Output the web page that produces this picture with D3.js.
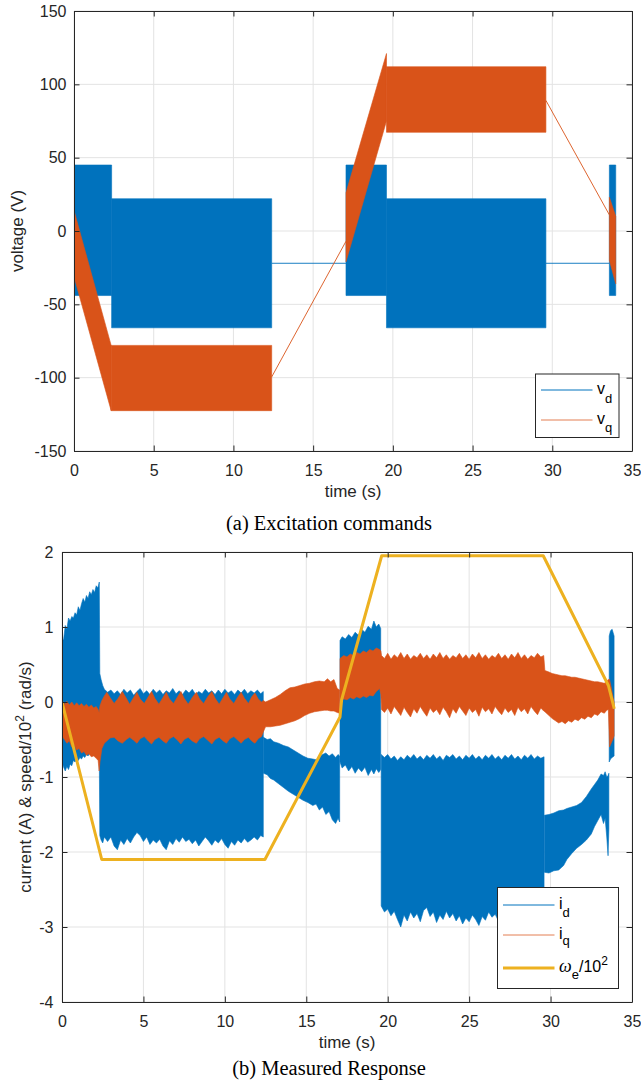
<!DOCTYPE html>
<html>
<head>
<meta charset="utf-8">
<script src="https://cdn.jsdelivr.net/npm/d3@7"></script>
<style>
  html, body { margin: 0; padding: 0; background: #fff; }
  svg { display: block; }
</style>
</head>
<body>
<svg id="fig" width="641" height="1082"></svg>
<script>
// ---------- shared ticks and colours ----------
const timeTicks = [0, 5, 10, 15, 20, 25, 30, 35];
const voltTicks = [-150, -100, -50, 0, 50, 100, 150];
const respTicks = [-4, -3, -2, -1, 0, 1, 2];
const palette = ["#0072BD", "#D95319", "#EDB120"];

// ---------- (a) excitation commands: envelope bands [t, low, high] ----------
const vdBands = [
  [[0, -44, 45], [2.36, -44, 45]],
  [[2.36, -66, 22], [12.4, -66, 22]],
  [[17.06, -44, 45], [19.6, -44, 45]],
  [[19.6, -66, 22], [29.6, -66, 22]],
  [[33.58, -44, 45], [33.98, -44, 45]]
];
// idle intervals where v_d is a constant level [t, value]
const vdIdle = [
  [[12.4, -22], [17.06, -22]],
  [[29.6, -22], [33.58, -22]]
];
const vqBands = [
  [[0, -31, 14], [2.33, -122.5, -78]],
  [[2.33, -122.5, -78], [12.4, -122.5, -78]],
  [[17.06, -21, 26], [19.6, 75, 121]],
  [[19.6, 67.3, 112], [29.6, 67.3, 112]],
  [[33.58, -20, 23], [33.98, -36, 10]]
];
const vqIdle = [
  [[12.4, -99.5], [17.06, -7]],
  [[29.6, 89], [33.58, 11]]
];

// ---------- (b) measured response: envelope bands [t, low, high] ----------
const idBands = [
  [
    [0, -0.80, 0.80], [0.1, -0.87, 0.84], [0.2, -0.92, 1.02], [0.3, -0.86, 0.97],
    [0.4, -0.90, 1.12], [0.5, -0.83, 1.08], [0.6, -0.85, 1.14], [0.7, -0.78, 1.12],
    [0.8, -0.80, 1.19], [0.9, -0.76, 1.16], [1.0, -0.78, 1.27], [1.1, -0.74, 1.22],
    [1.2, -0.76, 1.31], [1.3, -0.72, 1.38], [1.4, -0.74, 1.33], [1.5, -0.70, 1.42],
    [1.6, -0.72, 1.38], [1.7, -0.68, 1.47], [1.8, -0.71, 1.43], [1.9, -0.67, 1.50],
    [2.0, -0.70, 1.46], [2.1, -0.66, 1.55], [2.2, -0.70, 1.52], [2.29, -0.68, 1.60],
    [2.32, -1.78, 0.38], [2.4, -1.84, 0.30], [2.5, -1.88, 0.22], [2.6, -1.80, 0.17],
    [2.8, -1.86, 0.13], [3.0, -1.80, 0.16], [3.2, -1.92, 0.11], [3.4, -1.97, 0.15],
    [3.6, -1.84, 0.10], [3.8, -1.90, 0.17], [4.0, -1.82, 0.12], [4.2, -1.88, 0.16],
    [4.4, -1.80, 0.09], [4.6, -1.74, 0.14], [4.8, -1.78, 0.18], [5.0, -1.86, 0.11],
    [5.2, -1.80, 0.15], [5.4, -1.90, 0.10], [5.6, -1.84, 0.17], [5.8, -1.88, 0.12],
    [6.0, -1.83, 0.16], [6.2, -1.92, 0.10], [6.4, -1.97, 0.15], [6.6, -1.85, 0.12],
    [6.8, -1.90, 0.18], [7.0, -1.82, 0.11], [7.2, -1.87, 0.15], [7.4, -1.80, 0.10],
    [7.6, -1.86, 0.16], [7.8, -1.83, 0.12], [8.0, -1.89, 0.17], [8.2, -1.84, 0.10],
    [8.4, -1.92, 0.14], [8.6, -1.86, 0.11], [8.8, -1.80, 0.17], [9.0, -1.85, 0.12],
    [9.2, -1.91, 0.15], [9.4, -1.84, 0.10], [9.6, -1.88, 0.16], [9.8, -1.82, 0.11],
    [10.0, -1.90, 0.17], [10.2, -1.95, 0.12], [10.4, -1.86, 0.15], [10.6, -1.91, 0.10],
    [10.8, -1.84, 0.16], [11.0, -1.88, 0.12], [11.2, -1.82, 0.17], [11.4, -1.87, 0.11],
    [11.6, -1.84, 0.15], [11.8, -1.80, 0.12], [12.0, -1.84, 0.16], [12.2, -1.78, 0.11],
    [12.36, -1.80, 0.14]
  ],
  [
    [12.37, -0.95, -0.47], [12.6, -0.97, -0.50], [12.8, -1.02, -0.49], [13.0, -1.04, -0.53],
    [13.3, -1.09, -0.55], [13.6, -1.14, -0.58], [13.9, -1.19, -0.60], [14.2, -1.23, -0.64],
    [14.5, -1.27, -0.68], [14.8, -1.31, -0.72], [15.1, -1.34, -0.75], [15.4, -1.38, -0.76],
    [15.6, -1.36, -0.77], [15.8, -1.44, -0.73], [16.0, -1.40, -0.70], [16.2, -1.50, -0.68],
    [16.4, -1.46, -0.72], [16.6, -1.57, -0.69], [16.8, -1.62, -0.74], [16.95, -1.55, -0.70],
    [17.05, -1.60, -0.72]
  ],
  [
    [17.07, -0.80, 0.82], [17.2, -0.88, 0.87], [17.4, -0.84, 0.84], [17.6, -0.92, 0.90],
    [17.8, -0.86, 0.86], [18.0, -0.95, 0.93], [18.2, -0.88, 0.89], [18.4, -0.93, 0.97],
    [18.6, -0.87, 0.93], [18.8, -0.98, 1.01], [19.0, -0.90, 0.97], [19.15, -0.96, 1.08],
    [19.3, -0.89, 1.00], [19.45, -0.94, 1.04], [19.57, -0.90, 0.98]
  ],
  [
    [19.6, -2.72, -0.70], [19.8, -2.80, -0.74], [20.0, -2.76, -0.70], [20.2, -2.85, -0.76],
    [20.4, -2.79, -0.72], [20.6, -2.90, -0.78], [20.8, -3.00, -0.73], [21.0, -2.84, -0.77],
    [21.2, -2.92, -0.71], [21.4, -2.80, -0.75], [21.6, -2.88, -0.70], [21.8, -2.82, -0.76],
    [22.0, -2.93, -0.72], [22.2, -2.78, -0.77], [22.4, -2.74, -0.71], [22.6, -2.86, -0.75],
    [22.8, -2.80, -0.70], [23.0, -2.94, -0.76], [23.2, -2.84, -0.72], [23.4, -2.90, -0.78],
    [23.6, -2.79, -0.71], [23.8, -2.88, -0.74], [24.0, -2.82, -0.70], [24.2, -2.92, -0.76],
    [24.4, -2.85, -0.72], [24.6, -2.96, -0.77], [24.8, -2.88, -0.71], [25.0, -2.93, -0.75],
    [25.2, -2.84, -0.70], [25.4, -2.90, -0.76], [25.6, -2.98, -0.72], [25.8, -2.86, -0.77],
    [26.0, -2.91, -0.71], [26.2, -2.80, -0.75], [26.4, -2.87, -0.70], [26.6, -2.83, -0.76],
    [26.8, -2.92, -0.72], [27.0, -2.85, -0.77], [27.2, -2.90, -0.71], [27.4, -2.82, -0.75],
    [27.6, -2.88, -0.70], [27.8, -2.84, -0.76], [28.0, -2.93, -0.72], [28.2, -2.86, -0.77],
    [28.4, -2.90, -0.71], [28.6, -2.82, -0.75], [28.8, -2.88, -0.70], [29.0, -2.84, -0.76],
    [29.2, -2.91, -0.72], [29.4, -2.85, -0.75], [29.6, -2.88, -0.73]
  ],
  [
    [29.62, -2.27, -1.51], [29.9, -2.28, -1.50], [30.2, -2.25, -1.48], [30.5, -2.24, -1.45],
    [30.8, -2.18, -1.44], [31.0, -2.10, -1.42], [31.3, -2.02, -1.40], [31.6, -1.95, -1.38],
    [31.9, -1.90, -1.34], [32.2, -1.84, -1.26], [32.5, -1.76, -1.16], [32.7, -1.66, -1.10],
    [32.9, -1.58, -1.04], [33.1, -1.50, -0.96], [33.25, -1.62, -0.98], [33.35, -1.55, -0.93],
    [33.45, -1.80, -1.00], [33.53, -2.05, -0.98], [33.58, -1.70, -0.95]
  ],
  [
    [33.6, -0.80, 0.88], [33.68, -0.76, 0.95], [33.78, -0.74, 0.97], [33.9, -0.72, 0.88]
  ]
];

const iqBands = [
  [
    [0, -0.45, 0.02], [0.15, -0.50, -0.03], [0.3, -0.55, 0.01], [0.45, -0.52, -0.04],
    [0.6, -0.60, 0.00], [0.75, -0.58, -0.05], [0.9, -0.64, -0.01], [1.05, -0.62, -0.05],
    [1.2, -0.68, -0.02], [1.35, -0.66, -0.06], [1.5, -0.71, -0.03], [1.65, -0.69, -0.07],
    [1.8, -0.73, -0.04], [1.95, -0.72, -0.08], [2.1, -0.75, -0.06], [2.22, -0.78, -0.10],
    [2.28, -0.92, -0.14], [2.33, -0.80, -0.05], [2.45, -0.62, 0.02], [2.6, -0.55, 0.08],
    [2.75, -0.52, 0.13], [2.95, -0.48, 0.06], [3.2, -0.47, -0.02], [3.45, -0.52, 0.05],
    [3.7, -0.55, 0.14], [3.95, -0.50, 0.05], [4.15, -0.47, -0.03], [4.4, -0.51, 0.06],
    [4.6, -0.55, 0.13], [4.8, -0.49, 0.04], [5.05, -0.46, -0.02], [5.3, -0.52, 0.07],
    [5.5, -0.56, 0.14], [5.7, -0.50, 0.05], [5.95, -0.47, -0.03], [6.2, -0.52, 0.06],
    [6.4, -0.55, 0.13], [6.6, -0.49, 0.04], [6.85, -0.46, -0.02], [7.1, -0.51, 0.07],
    [7.3, -0.56, 0.14], [7.5, -0.50, 0.05], [7.75, -0.47, -0.03], [8.0, -0.52, 0.06],
    [8.25, -0.55, 0.13], [8.45, -0.49, 0.04], [8.7, -0.46, -0.02], [8.95, -0.51, 0.07],
    [9.2, -0.56, 0.14], [9.4, -0.50, 0.05], [9.65, -0.47, -0.03], [9.9, -0.52, 0.06],
    [10.1, -0.55, 0.13], [10.3, -0.49, 0.04], [10.55, -0.46, -0.02], [10.8, -0.51, 0.07],
    [11.0, -0.55, 0.13], [11.2, -0.50, 0.05], [11.45, -0.47, -0.02], [11.65, -0.52, 0.07],
    [11.85, -0.55, 0.12], [12.05, -0.49, 0.04], [12.25, -0.46, 0.00], [12.36, -0.40, 0.02],
    [12.5, -0.33, 0.00], [12.8, -0.33, 0.03], [13.1, -0.32, 0.06], [13.4, -0.31, 0.10],
    [13.7, -0.29, 0.15], [14.0, -0.27, 0.19], [14.3, -0.25, 0.20], [14.6, -0.22, 0.22],
    [14.9, -0.18, 0.24], [15.2, -0.15, 0.25], [15.5, -0.13, 0.27], [15.8, -0.12, 0.28],
    [16.1, -0.11, 0.27], [16.3, -0.11, 0.31], [16.5, -0.12, 0.27], [16.7, -0.12, 0.30],
    [16.9, -0.14, 0.18], [17.05, -0.15, 0.16]
  ],
  [
    [17.07, 0.02, 0.58], [17.3, 0.04, 0.62], [17.5, 0.03, 0.60], [17.7, 0.06, 0.64],
    [17.9, 0.04, 0.62], [18.1, 0.07, 0.66], [18.3, 0.05, 0.64], [18.5, 0.08, 0.68],
    [18.7, 0.06, 0.66], [18.9, 0.09, 0.70], [19.1, 0.08, 0.68], [19.3, 0.14, 0.72],
    [19.5, 0.18, 0.70], [19.58, 0.10, 0.68], [19.62, -0.10, 0.62], [19.8, -0.14, 0.58],
    [20.0, -0.08, 0.65], [20.2, -0.16, 0.57], [20.4, -0.06, 0.63], [20.6, -0.12, 0.59],
    [20.8, -0.18, 0.66], [21.0, -0.07, 0.58], [21.2, -0.14, 0.64], [21.4, -0.20, 0.57],
    [21.6, -0.09, 0.62], [21.8, -0.15, 0.59], [22.0, -0.06, 0.65], [22.2, -0.13, 0.58],
    [22.4, -0.19, 0.63], [22.6, -0.08, 0.57], [22.8, -0.14, 0.64], [23.0, -0.10, 0.59],
    [23.2, -0.17, 0.66], [23.4, -0.07, 0.58], [23.6, -0.13, 0.63], [23.8, -0.21, 0.57],
    [24.0, -0.09, 0.62], [24.2, -0.15, 0.59], [24.4, -0.06, 0.65], [24.6, -0.12, 0.58],
    [24.8, -0.18, 0.63], [25.0, -0.08, 0.57], [25.2, -0.14, 0.64], [25.4, -0.10, 0.59],
    [25.6, -0.19, 0.66], [25.8, -0.07, 0.58], [26.0, -0.13, 0.63], [26.2, -0.09, 0.57],
    [26.4, -0.16, 0.62], [26.6, -0.06, 0.59], [26.8, -0.12, 0.65], [27.0, -0.17, 0.58],
    [27.2, -0.08, 0.63], [27.4, -0.14, 0.57], [27.6, -0.10, 0.64], [27.8, -0.18, 0.59],
    [28.0, -0.07, 0.66], [28.2, -0.13, 0.58], [28.4, -0.09, 0.63], [28.6, -0.16, 0.57],
    [28.8, -0.06, 0.62], [29.0, -0.12, 0.59], [29.2, -0.17, 0.65], [29.4, -0.08, 0.60],
    [29.58, -0.12, 0.62], [29.65, -0.13, 0.42], [29.9, -0.18, 0.40], [30.1, -0.22, 0.38],
    [30.3, -0.25, 0.37], [30.5, -0.28, 0.36], [30.7, -0.26, 0.35], [30.9, -0.29, 0.35],
    [31.1, -0.25, 0.34], [31.3, -0.27, 0.33], [31.5, -0.23, 0.33], [31.7, -0.25, 0.32],
    [31.9, -0.21, 0.31], [32.1, -0.23, 0.30], [32.3, -0.19, 0.29], [32.5, -0.21, 0.28],
    [32.7, -0.16, 0.27], [32.9, -0.18, 0.27], [33.1, -0.13, 0.26], [33.3, -0.15, 0.25],
    [33.45, -0.11, 0.28], [33.55, -0.10, 0.30], [33.62, -0.60, 0.30], [33.72, -0.55, 0.20],
    [33.82, -0.50, 0.08], [33.9, -0.45, 0.00]
  ]
];

// electrical speed omega_e / 100, [t, value]
const omegaScaled = [
  [0, 0], [2.44, -2.1], [12.46, -2.1], [17.07, -0.2], [17.17, 0.03],
  [19.63, 1.95], [29.55, 1.95], [33.55, 0.22], [33.91, -0.09]
];

// ---------- figure ----------
const svg = d3.select("#fig");
const sans = "'Liberation Sans', Arial, Helvetica, sans-serif";
const serif = "'Liberation Serif', 'Times New Roman', serif";
const ink = "#262626";
const gridColor = "#e3e3e3";

function makePanel(cfg) {
  const x = d3.scaleLinear().domain([0, 35]).range([cfg.left, cfg.right]);
  const y = d3.scaleLinear().domain(cfg.yDomain).range([cfg.bottom, cfg.top]);
  const g = svg.append("g");

  const clipId = "clip-" + cfg.id;
  g.append("clipPath").attr("id", clipId)
    .append("rect")
    .attr("x", cfg.left).attr("y", cfg.top)
    .attr("width", cfg.right - cfg.left).attr("height", cfg.bottom - cfg.top);

  // grid
  const grid = g.append("g").attr("stroke", gridColor).attr("stroke-width", 1);
  grid.selectAll("line.gx").data(timeTicks).join("line")
    .attr("x1", d => x(d)).attr("x2", d => x(d))
    .attr("y1", cfg.top).attr("y2", cfg.bottom);
  grid.selectAll("line.gy").data(cfg.yTicks).join("line")
    .attr("x1", cfg.left).attr("x2", cfg.right)
    .attr("y1", d => y(d)).attr("y2", d => y(d));

  const plot = g.append("g").attr("clip-path", `url(#${clipId})`);
  return { x, y, g, plot };
}

function drawAxes(p, cfg) {
  const styleAxis = sel => {
    sel.select(".domain").attr("stroke", ink).attr("stroke-width", 1);
    sel.selectAll(".tick line").attr("stroke", ink).attr("stroke-width", 1);
    sel.selectAll(".tick text").attr("fill", ink)
      .attr("font-family", sans).attr("font-size", 16);
    sel.attr("font-family", null).attr("font-size", null);
  };
  const fmt = d => String(d);
  p.g.append("g").attr("transform", `translate(0,${cfg.bottom})`)
    .call(d3.axisBottom(p.x).tickValues(timeTicks).tickFormat(fmt)
      .tickSizeInner(-5.5).tickSizeOuter(0).tickPadding(cfg.xPad))
    .call(styleAxis);
  p.g.append("g").attr("transform", `translate(0,${cfg.top})`)
    .call(d3.axisTop(p.x).tickValues(timeTicks).tickFormat("")
      .tickSizeInner(-5.5).tickSizeOuter(0))
    .call(styleAxis);
  p.g.append("g").attr("transform", `translate(${cfg.left},0)`)
    .call(d3.axisLeft(p.y).tickValues(cfg.yTicks).tickFormat(fmt)
      .tickSizeInner(-5.5).tickSizeOuter(0).tickPadding(cfg.yPad))
    .call(styleAxis);
  p.g.append("g").attr("transform", `translate(${cfg.right},0)`)
    .call(d3.axisRight(p.y).tickValues(cfg.yTicks).tickFormat("")
      .tickSizeInner(-5.5).tickSizeOuter(0))
    .call(styleAxis);

  // x label
  p.g.append("text")
    .attr("x", (cfg.left + cfg.right) / 2).attr("y", cfg.xLabelY)
    .attr("text-anchor", "middle").attr("font-family", sans).attr("font-size", 17)
    .attr("fill", ink).text("time (s)");
}

function bands(p, data, color) {
  const area = d3.area()
    .x(d => p.x(d[0])).y0(d => p.y(d[1])).y1(d => p.y(d[2]));
  p.plot.append("g").selectAll("path").data(data).join("path")
    .attr("d", area).attr("fill", color)
    .attr("stroke", color).attr("stroke-width", 0.6).attr("stroke-linejoin", "round");
}

function lines(p, data, color, width) {
  const line = d3.line().x(d => p.x(d[0])).y(d => p.y(d[1]));
  p.plot.append("g").selectAll("path").data(data).join("path")
    .attr("d", line).attr("fill", "none")
    .attr("stroke", color).attr("stroke-width", width)
    .attr("stroke-linejoin", "round");
}

function legend(p, box, entries) {
  const lg = p.g.append("g");
  lg.append("rect")
    .attr("x", box.x).attr("y", box.y).attr("width", box.w).attr("height", box.h)
    .attr("fill", "#fff").attr("stroke", ink).attr("stroke-width", 1);
  entries.forEach(e => {
    lg.append("line")
      .attr("x1", box.x + 5.5).attr("x2", box.x + 57)
      .attr("y1", e.y).attr("y2", e.y)
      .attr("stroke", e.color).attr("stroke-width", e.width)
      .attr("stroke-opacity", e.opacity || 1);
    const t = lg.append("text")
      .attr("x", box.x + 61.5).attr("y", e.y + 3.5)
      .attr("font-family", sans).attr("font-size", 16).attr("fill", "#000");
    e.parts(t);
  });
}

// ---------- panel (a) ----------
const cfgA = {
  id: "a", left: 74, right: 632, top: 11, bottom: 451,
  yDomain: [-150, 150], yTicks: voltTicks, xPad: 13.5, yPad: 7.5, xLabelY: 497
};
const pa = makePanel(cfgA);
bands(pa, vdBands, palette[0]);
lines(pa, vdIdle, palette[0], 0.9);
bands(pa, vqBands, palette[1]);
lines(pa, vqIdle, palette[1], 0.9);
drawAxes(pa, cfgA);

svg.append("text")
  .attr("transform", `translate(23,${(cfgA.top + cfgA.bottom) / 2}) rotate(-90)`)
  .attr("text-anchor", "middle").attr("font-family", sans).attr("font-size", 17)
  .attr("fill", ink).text("voltage (V)");

legend(pa, { x: 535.5, y: 374, w: 83.5, h: 63.5 }, [
  { y: 390, color: palette[0], width: 1, parts: t => {
      t.append("tspan").text("v");
      t.append("tspan").attr("font-size", 13).attr("dy", 9).text("d");
  } },
  { y: 420, color: palette[1], width: 1, opacity: 0.75, parts: t => {
      t.append("tspan").text("v");
      t.append("tspan").attr("font-size", 13).attr("dy", 8).text("q");
  } }
]);

svg.append("text")
  .attr("x", 329).attr("y", 530)
  .attr("text-anchor", "middle").attr("font-family", serif).attr("font-size", 20.5)
  .attr("fill", "#000").text("(a) Excitation commands");

// ---------- panel (b) ----------
const cfgB = {
  id: "b", left: 62, right: 632, top: 552, bottom: 1002,
  yDomain: [-4, 2], yTicks: respTicks, xPad: 13.5, yPad: 8.5, xLabelY: 1048
};
const pb = makePanel(cfgB);
bands(pb, idBands, palette[0]);
bands(pb, iqBands, palette[1]);
lines(pb, [omegaScaled], palette[2], 3);
drawAxes(pb, cfgB);

const ylab = svg.append("text")
  .attr("transform", `translate(31,${(cfgB.top + cfgB.bottom) / 2}) rotate(-90)`)
  .attr("text-anchor", "middle").attr("font-family", sans).attr("font-size", 17)
  .attr("fill", ink);
ylab.append("tspan").text("current (A) & speed/10");
ylab.append("tspan").attr("font-size", 12).attr("dy", -7).text("2");
ylab.append("tspan").attr("dy", 7).text(" (rad/s)");

legend(pb, { x: 497.5, y: 887.5, w: 121, h: 101 }, [
  { y: 905, color: palette[0], width: 1, parts: t => {
      t.append("tspan").text("i");
      t.append("tspan").attr("font-size", 13).attr("dy", 8.5).text("d");
  } },
  { y: 935, color: palette[1], width: 1, opacity: 0.75, parts: t => {
      t.append("tspan").text("i");
      t.append("tspan").attr("font-size", 13).attr("dy", 6.5).text("q");
  } },
  { y: 968, color: palette[2], width: 3, parts: t => {
      t.append("tspan").attr("font-style", "italic").attr("font-family", serif)
        .attr("font-size", 18).text("ω");
      t.append("tspan").attr("font-size", 13).attr("dy", 7).text("e");
      t.append("tspan").attr("dy", -7).text("/10");
      t.append("tspan").attr("font-size", 12).attr("dy", -7).text("2");
  } }
]);

svg.append("text")
  .attr("x", 329).attr("y", 1075)
  .attr("text-anchor", "middle").attr("font-family", serif).attr("font-size", 20.5)
  .attr("fill", "#000").text("(b) Measured Response");
</script>
</body>
</html>
